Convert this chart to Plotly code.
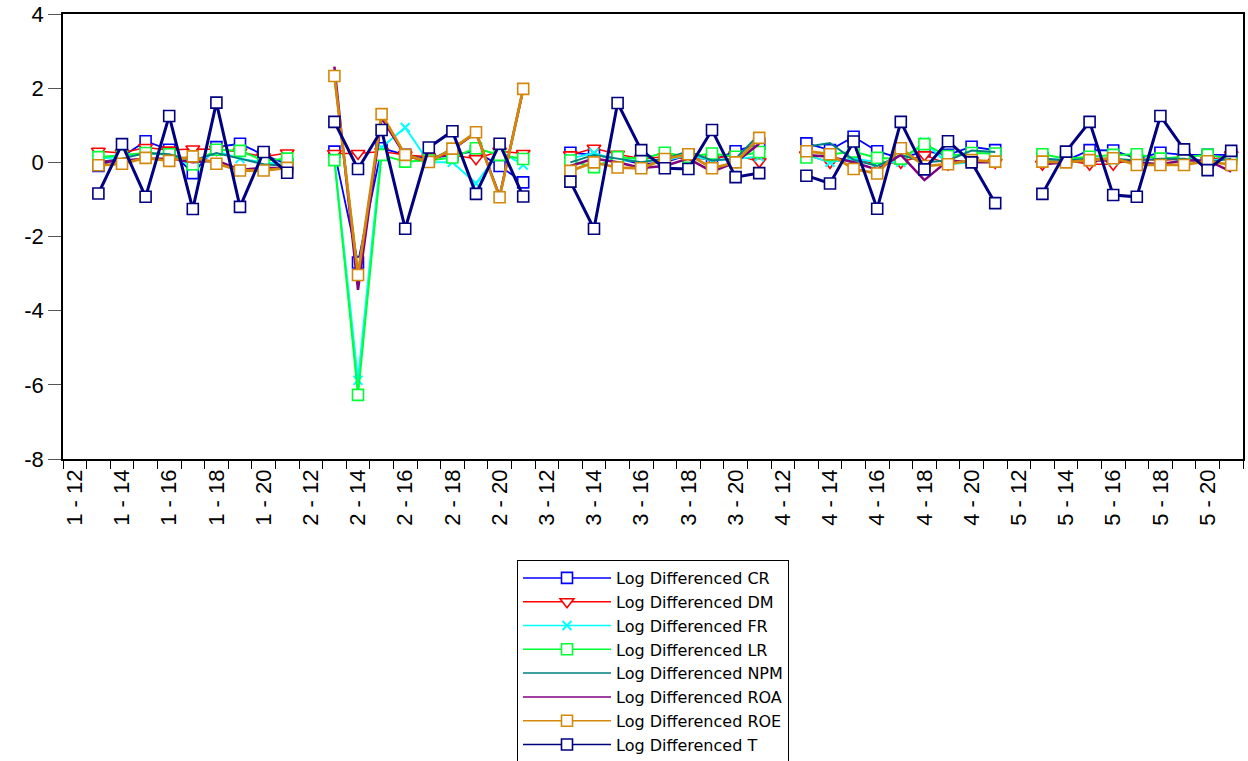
import plotly.graph_objects as go

sections = [1, 2, 3, 4, 5]
periods = list(range(12, 22))
categories = [f"{s} - {p}" for s in sections for p in periods]
tick_text = [c if i % 2 == 0 else "" for i, c in enumerate(categories)]
y_ticks = [4, 2, 0, -2, -4, -6, -8]
y_tick_text = ["4", "2", "0", "-2", "-4", "-6", "-8"]

N = None
CR = [N, -0.10, 0.15, 0.57, 0.34, -0.29, 0.41, 0.50, 0.20, -0.05,
      N, 0.29, -2.70, 0.38, 0.20, 0.10, 0.20, 0.30, -0.10, -0.54,
      N, 0.26, 0.20, 0.10, -0.05, 0.00, 0.20, 0.05, 0.30, 0.50,
      N, 0.51, 0.33, 0.69, 0.30, 0.10, 0.30, 0.20, 0.42, 0.33,
      N, 0.10, 0.05, 0.33, 0.32, 0.10, 0.26, 0.20, 0.20, 0.20]
DM = [N, 0.30, 0.25, 0.40, 0.33, 0.36, 0.35, 0.28, 0.15, 0.25,
      N, 0.24, 0.24, 0.29, 0.20, 0.15, 0.20, 0.10, 0.30, 0.24,
      N, 0.20, 0.38, 0.22, 0.10, 0.15, 0.10, 0.10, 0.20, 0.02,
      N, 0.20, 0.00, 0.10, -0.05, 0.00, 0.20, -0.05, 0.05, 0.00,
      N, -0.05, 0.05, -0.05, -0.05, 0.10, 0.05, 0.10, 0.05, 0.20]
FR = [N, 0.10, 0.15, 0.25, 0.20, -0.10, 0.30, 0.10, 0.00, -0.05,
      N, 0.10, -5.88, 0.40, 0.94, 0.00, 0.00, -0.57, 0.30, -0.07,
      N, 0.10, 0.25, 0.05, 0.05, 0.05, 0.20, 0.05, 0.10, 0.15,
      N, 0.20, 0.00, 0.10, 0.00, 0.00, 0.55, -0.05, 0.00, 0.05,
      N, 0.05, 0.10, 0.10, 0.05, 0.05, -0.10, 0.10, 0.05, 0.10]
LR = [N, 0.14, 0.20, 0.25, 0.22, -0.05, 0.34, 0.31, 0.05, 0.10,
      N, 0.06, -6.27, 0.20, 0.02, 0.05, 0.13, 0.38, 0.20, 0.09,
      N, 0.05, -0.13, 0.14, 0.10, 0.26, 0.15, 0.24, 0.15, 0.28,
      N, 0.13, 0.20, 0.29, 0.12, 0.10, 0.49, 0.17, 0.25, 0.24,
      N, 0.22, 0.10, 0.15, 0.20, 0.22, 0.10, 0.15, 0.20, 0.10]
NPM = [N, 0.00, 0.10, 0.25, 0.22, 0.05, 0.25, 0.10, -0.05, -0.10,
       N, 2.30, -3.00, 1.20, 0.20, 0.05, 0.35, 0.80, -0.90, 1.95,
       N, 0.00, 0.20, 0.10, 0.00, 0.10, 0.30, 0.05, 0.10, 0.75,
       N, 0.42, 0.52, 0.07, -0.10, 0.20, 0.00, 0.05, 0.32, 0.28,
       N, 0.10, 0.05, 0.10, 0.10, 0.05, 0.10, 0.10, 0.00, 0.10]
ROA = [N, 0.00, 0.05, 0.10, 0.10, 0.00, 0.05, -0.20, -0.15, -0.15,
       N, 2.58, -3.44, 1.20, 0.18, 0.02, 0.35, 0.80, -0.92, 1.97,
       N, -0.10, 0.10, 0.00, -0.15, -0.10, 0.10, -0.25, 0.00, 0.50,
       N, 0.20, 0.15, 0.00, -0.20, 0.20, -0.48, 0.05, 0.00, 0.00,
       N, -0.05, 0.00, 0.05, 0.05, 0.00, -0.05, 0.05, 0.05, -0.25]
ROE = [N, -0.08, -0.04, 0.12, 0.04, 0.16, -0.04, -0.22, -0.22, -0.15,
       N, 2.33, -3.04, 1.30, 0.20, 0.01, 0.37, 0.81, -0.94, 1.98,
       N, -0.23, 0.00, -0.14, -0.16, 0.09, 0.22, -0.16, 0.00, 0.66,
       N, 0.30, 0.22, -0.18, -0.30, 0.38, -0.10, -0.05, 0.06, 0.02,
       N, 0.02, 0.00, 0.06, 0.11, -0.07, -0.07, -0.07, 0.03, -0.07]
T = [N, -0.84, 0.49, -0.93, 1.25, -1.26, 1.61, -1.20, 0.28, -0.28,
     N, 1.09, -0.18, 0.87, -1.79, 0.40, 0.84, -0.85, 0.50, -0.92,
     N, -0.52, -1.79, 1.60, 0.33, -0.16, -0.18, 0.87, -0.40, -0.29,
     N, -0.36, -0.57, 0.56, -1.25, 1.09, -0.19, 0.57, 0.00, -1.10,
     N, -0.85, 0.29, 1.09, -0.88, -0.93, 1.25, 0.35, -0.21, 0.31]

series = [
    ("Log Differenced CR", CR, "#0000FF", "square", 1.8),
    ("Log Differenced DM", DM, "#FF0000", "triangle-down", 1.5),
    ("Log Differenced FR", FR, "#00FFFF", "x-thin", 2.0),
    ("Log Differenced LR", LR, "#00FF33", "square", 2.0),
    ("Log Differenced NPM", NPM, "#008080", None, 2.0),
    ("Log Differenced ROA", ROA, "#800080", None, 2.5),
    ("Log Differenced ROE", ROE, "#D4880A", "square", 2.8),
    ("Log Differenced T", T, "#000080", "square", 3.0),
]


def marker_for(sym, color):
    if sym == "x-thin":
        return dict(symbol="x-thin", size=9, color=color, line=dict(color=color, width=2))
    return dict(symbol=sym, size=11 if sym == "square" else 12, color="white",
                line=dict(color=color, width=1.6))


fig = go.Figure()
for name, vals, color, sym, lw in series:
    mode = "lines" if sym is None else "lines+markers"
    kw = {} if sym is None else {"marker": marker_for(sym, color)}
    fig.add_trace(go.Scatter(x=categories, y=vals, name=name, mode=mode,
                             line=dict(color=color, width=lw), showlegend=False,
                             legendgroup=name, **kw))
# legend entries (thin lines as in the original legend)
for name, vals, color, sym, lw in series:
    mode = "lines" if sym is None else "lines+markers"
    kw = {} if sym is None else {"marker": marker_for(sym, color)}
    fig.add_trace(go.Scatter(x=[None], y=[None], name=name, mode=mode,
                             line=dict(color=color, width=1.5), showlegend=True,
                             legendgroup=name, **kw))

fig.update_layout(
    width=1248, height=761,
    margin=dict(l=63, r=5, t=14, b=302, autoexpand=False),
    paper_bgcolor="white", plot_bgcolor="white",
    font=dict(family="Liberation Sans, Arial, sans-serif", color="black"),
    showlegend=True,
    legend=dict(x=0.5, xanchor="center", y=-0.227, yanchor="top",
                bordercolor="black", borderwidth=1, bgcolor="white",
                font=dict(size=16, family="DejaVu Sans, sans-serif"),
                itemwidth=88, tracegroupgap=0),
)
fig.update_xaxes(
    type="category", range=[-0.5, 49.5], automargin=False,
    tickmode="array", tickvals=categories, ticktext=tick_text,
    tickson="boundaries", ticks="outside", ticklen=8, tickcolor="black",
    tickangle=-90, tickfont=dict(size=22),
    showline=True, linecolor="black", linewidth=1.5, mirror=True,
    showgrid=False, zeroline=False,
)
fig.update_yaxes(
    range=[-8, 4], automargin=False,
    tickmode="array", tickvals=y_ticks, ticktext=y_tick_text,
    ticks="outside", ticklen=13, tickcolor="#555555",
    tickfont=dict(size=22),
    showline=True, linecolor="black", linewidth=1.5, mirror=True,
    showgrid=False, zeroline=False,
)

fig.write_html(
    "out.html",
    config={"displayModeBar": False},
    post_script="document.body.style.margin='0';document.body.style.overflow='hidden';",
)
